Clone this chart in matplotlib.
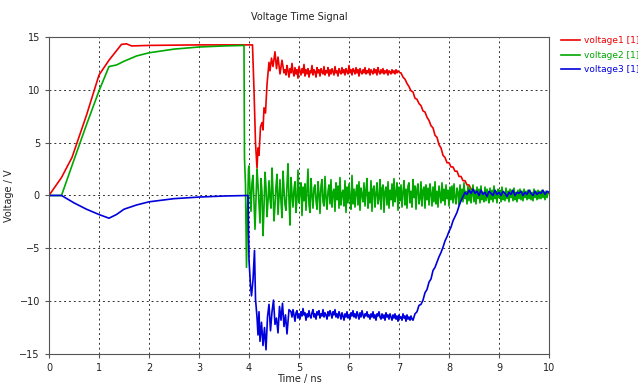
import numpy as np
import matplotlib
matplotlib.use("Agg")
import matplotlib.pyplot as plt

# Voltage time signal, three probes
# Each trace = hand-read breakpoints (t, V) + uniformly sampled noisy segments

v1_t = [0.0, 0.25, 0.46, 0.75, 1.0, 1.2, 1.45, 1.55, 1.65, 2.0, 3.0, 4.07,
        4.10, 4.13, 4.16, 4.18, 4.20, 4.23, 4.26, 4.28, 4.30, 4.33, 4.36, 4.40,
        4.42, 4.45, 4.48, 4.52, 4.55, 4.58, 4.62, 4.66, 4.70]
v1_v = [0.0, 1.7, 3.6, 7.6, 11.4, 12.8, 14.3, 14.35, 14.15, 14.2, 14.25, 14.25,
        10.0, 5.0, 2.6, 4.5, 3.8, 6.5, 6.9, 6.2, 8.3, 7.8, 10.5, 12.6,
        11.8, 13.0, 12.2, 13.6, 12.0, 13.1, 11.5, 12.8, 11.6]
# plateau 4.72 .. 7.02, every 0.02 ns
v1_plateau = [11.9, 11.4, 12.3, 11.8, 11.2, 12.0, 11.6, 12.5, 11.7, 11.3, 12.1, 11.5, 11.9, 11.1, 12.2, 11.8, 11.4, 12.0, 11.6, 12.4,
              11.3, 11.9, 11.5, 12.0, 11.2, 11.8, 11.6, 12.3, 11.4, 11.9, 11.7, 11.2, 12.1, 11.6, 11.9, 11.3, 12.0, 11.7, 11.5, 12.2,
              11.4, 11.8, 11.6, 12.1, 11.3, 11.9, 11.5, 12.0, 11.7, 11.4, 12.2, 11.6, 11.8, 11.3, 12.0, 11.7, 11.5, 12.1, 11.6, 11.9,
              11.4, 12.0, 11.7, 11.5, 12.3, 11.6, 11.9, 11.4, 12.0, 11.8, 11.5, 12.1, 11.6, 11.9, 11.3, 12.0, 11.7, 11.5, 11.9, 11.6,
              12.1, 11.5, 11.8, 11.6, 12.0, 11.4, 11.9, 11.7, 11.5, 12.0, 11.6, 11.9, 11.4, 12.1, 11.7, 11.5, 11.9, 11.6, 12.0, 11.5,
              11.8, 11.6, 11.9, 11.4, 11.8, 11.7, 11.5, 11.9, 11.6, 11.8, 11.5, 11.9, 11.6, 11.8, 11.7, 11.6]
# decline 7.04 .. 8.52 then tail 8.56 .. 10.0, every 0.04 ns
v1_fall = [11.6, 11.2, 11.0, 10.6, 10.3, 9.9, 9.8, 9.2, 9.1, 8.7, 8.5, 8.0,
           7.9, 7.4, 7.1, 6.6, 6.4, 5.7, 5.5, 4.8, 4.5, 3.8, 3.6, 3.1,
           3.1, 2.7, 2.7, 2.3, 2.3, 1.8, 1.8, 1.4, 1.4, 1.0, 1.0, 0.6,
           0.6, 0.3,
           0.3, 0.1, 0.4, 0.2, 0.3, 0.0, 0.3, 0.2, 0.1, 0.4, 0.2, 0.3,
           0.0, 0.3, 0.2, 0.1, 0.4, 0.2, 0.3, 0.1, 0.2, 0.3, 0.1, 0.2,
           0.3, 0.1, 0.4, 0.2, 0.1, 0.3, 0.2, 0.2, 0.3, 0.1, 0.2, 0.3, 0.2]

v2_t = [0.0, 0.25, 0.48, 0.75, 1.0, 1.2, 1.35, 1.5, 1.75, 2.0, 2.5, 3.0, 3.5, 3.90,
        3.91, 3.93, 3.95, 3.97, 3.99]
v2_v = [0.0, 0.0, 3.1, 6.7, 9.9, 12.2, 12.35, 12.7, 13.2, 13.5, 13.85, 14.05, 14.15, 14.2,
        3.5, 1.0, -6.8, -1.5, 2.5]
# ringing 4.00 .. 9.98, every 0.02 ns
v2_ring = [2.8, 0.5, -1.5, 1.2, 1.9, -0.6, -3.2, -0.4, 2.5, 1.0, -0.8, -2.6, 1.6, 0.3, -3.8, -1.2, 2.2, 0.8, -2.0, -0.5,
           1.4, -0.3, -1.2, 2.6, 0.4, -2.4, -0.9, 0.9, 2.0, -1.8, -0.2, 1.5, -0.6, -2.1, 2.3, 0.6, -0.9, -1.4, 1.0, 3.0,
           -0.4, -2.8, 1.7, 0.2, -1.1, 0.6, 1.3, -1.6, -0.3, 2.4, -0.7, 0.4, 1.2, -1.9, 0.8, -0.5, 1.1, -1.4, 0.5, 2.5,
           -0.9, -1.6, 1.6, 0.1, -1.2, 0.7, 1.0, -0.5, -1.3, 1.3, 0.2, -1.7, 0.9, 1.5, -0.6, -1.0, 1.8, -0.2, -1.3, 0.4,
           1.0, -0.8, 1.5, -1.1, 0.3, 0.6, -1.5, 1.2, -0.4, 0.9, -1.2, 1.7, -0.9, 0.2, 0.5, -1.0, 1.4, -1.6, 0.8, -0.7,
           1.1, -0.3, -1.3, 1.9, -0.8, 0.6, -1.1, 0.4, 1.0, -0.9, 1.3, -1.4, 0.7, 0.1, -0.6, 1.2, -1.0, 0.5, 1.6, -1.2,
           0.3, -0.7, 1.4, -1.5, 0.6, 0.9, -1.1, 0.2, 1.2, -0.8, -0.3, 1.5, -1.3, 0.7, 1.0, -1.6, 0.4, 0.8, -0.9, 1.3,
           -1.2, 0.5, -0.4, 1.1, -1.0, 1.6, -0.6, 0.2, 1.2, -1.4, 0.8, -0.5, 1.0, -1.1, 0.3, 1.4, -0.9, 0.6, -1.2, 0.9,
           1.2, -0.7, 0.4, -1.1, 1.5, -0.2, 0.9, -1.3, 0.6, 1.1, -0.8, -0.3, 1.3, -1.0, 0.5, 0.8, -1.2, 1.0, -0.4, 0.7,
           -0.9, 1.1, 0.2, -1.0, 0.8, -0.6, 1.3, -0.8, 0.4, -1.1, 0.9, 0.1, -0.7, 1.2, -0.5, 0.6, -0.9, 1.0, -0.3, 0.5,
           -1.0, 0.8, -0.4, 0.9, -0.7, 1.1, -0.2, -0.8, 0.7, 0.3, -0.9, 1.0, -0.5, 0.6, -0.6, 1.2, -0.3, 0.4, -0.8, 0.9,
           -0.5, 0.7, -0.7, 0.2, 1.0, -0.6, 0.5, -0.8, 0.8, -0.3, 0.6, -0.7, 0.9, -0.4, 0.3, -0.6, 0.8, -0.5, 0.6, -0.2,
           -0.7, 0.7, -0.4, 0.5, -0.6, 0.9, -0.3, 0.4, -0.7, 0.6, -0.2, 0.5, -0.6, 0.8, -0.4, 0.3, -0.5, 0.7, -0.3, 0.4,
           -0.6, 0.6, -0.2, 0.5, -0.5, 0.7, -0.4, 0.3, -0.6, 0.5, -0.3, 0.6, -0.4, 0.4, -0.5, 0.6, -0.2, 0.4, -0.4, 0.5,
           -0.3, 0.5, -0.4, 0.3, -0.5, 0.6, -0.2, 0.4, -0.4, 0.5, -0.3, 0.4, -0.3, 0.5, -0.2, 0.3, -0.4, 0.4, -0.2, 0.3]

v3_t = [0.0, 0.25, 0.5, 0.75, 1.0, 1.2, 1.35, 1.5, 1.75, 2.0, 2.5, 3.0, 3.5, 3.98,
        4.00, 4.03, 4.05, 4.08, 4.11, 4.13, 4.16, 4.18, 4.20, 4.22, 4.25, 4.28,
        4.31, 4.34, 4.37, 4.40, 4.43, 4.46, 4.49, 4.52, 4.55, 4.58, 4.61, 4.64,
        4.67, 4.70, 4.73, 4.76, 4.80]
v3_v = [0.0, 0.0, -0.7, -1.3, -1.8, -2.15, -1.8, -1.3, -0.9, -0.6, -0.3, -0.15, -0.05, 0.0,
        -6.1, -8.5, -9.5, -8.0, -5.2, -9.8, -11.5, -13.2, -11.0, -13.8, -12.0, -14.2,
        -12.5, -14.6, -11.5, -10.3, -12.8, -11.0, -9.9, -12.2, -11.6, -13.0, -10.5, -11.8,
        -10.2, -12.4, -11.3, -13.1, -10.8]
# plateau 4.84 .. 7.26, every 0.02 ns
v3_plateau = [-11.0, -11.5, -10.8, -11.3, -11.9, -11.1, -10.9, -11.6, -11.2, -11.7, -11.0, -11.4, -10.7, -11.3, -11.1, -11.8, -11.2, -11.5, -10.9, -11.4,
              -11.6, -11.1, -10.8, -11.5, -11.2, -11.7, -11.0, -11.3, -10.9, -11.6, -11.2, -11.4, -10.8, -11.5, -11.1, -11.3, -11.7, -11.0, -11.4, -10.9,
              -11.2, -11.6, -11.0, -11.3, -10.8, -11.5, -11.2, -11.6, -11.0, -11.3, -11.7, -11.1, -11.4, -11.8, -11.2, -11.5, -11.0, -11.6, -11.3, -11.7,
              -11.1, -11.4, -10.9, -11.5, -11.2, -11.6, -11.0, -11.3, -11.7, -11.1, -11.5, -10.9, -11.3, -11.6, -11.2, -11.4, -11.0, -11.5, -11.3, -11.7,
              -11.2, -11.5, -11.0, -11.6, -11.3, -11.8, -11.2, -11.4, -11.0, -11.5, -11.7, -11.2, -11.6, -11.3, -11.8, -11.1, -11.5, -11.3, -11.7, -11.2,
              -11.5, -11.8, -11.3, -11.6, -11.2, -11.7, -11.4, -11.9, -11.3, -11.6, -11.5, -11.8, -11.2, -11.6, -11.4, -11.9, -11.3, -11.7, -11.5, -11.8,
              -11.4, -11.7]
# rise 7.28 .. 8.52 then tail 8.56 .. 10.0, every 0.04 ns
v3_rise = [-11.8, -11.2, -11.0, -10.4, -10.3, -9.9, -9.2, -8.9, -8.2, -7.9, -7.1, -6.8,
           -6.3, -5.8, -5.4, -4.9, -4.3, -3.9, -3.4, -3.0, -2.4, -2.0, -1.6, -1.0,
           -0.5, -0.1, 0.3, 0.1, 0.5, 0.2, 0.6, 0.2,
           0.4, 0.0, 0.5, 0.1, 0.3, -0.1, 0.4, 0.2, 0.0, 0.5, 0.1, 0.3,
           0.0, 0.4, 0.2, -0.1, 0.3, 0.1, 0.5, 0.0, 0.3, 0.2, 0.4, 0.0,
           0.3, 0.1, 0.5, 0.2, 0.0, 0.4, 0.1, 0.3, 0.2, 0.5, 0.1, 0.4, 0.3]

labels = ["voltage1 [1]", "voltage2 [1]", "voltage3 [1]"]
colors = ["#ee0000", "#00a800", "#0000dd"]


def build(t_head, v_head, segments):
    ts, vs = [np.asarray(t_head)], [np.asarray(v_head)]
    for start, step, vals in segments:
        ts.append(start + step * np.arange(len(vals)))
        vs.append(np.asarray(vals))
    return np.concatenate(ts), np.concatenate(vs)


traces = [build(v1_t, v1_v, [(4.72, 0.02, v1_plateau), (7.04, 0.04, v1_fall)]),
          build(v2_t, v2_v, [(4.00, 0.02, v2_ring)]),
          build(v3_t, v3_v, [(4.84, 0.02, v3_plateau), (7.28, 0.04, v3_rise)])]

plt.rcParams['font.family'] = ['DejaVu Sans']
fig = plt.figure(figsize=(6.38, 3.85), dpi=100)
ax = fig.add_axes([0.0768, 0.0805, 0.7837, 0.8235])

for (t, v), lab, c in zip(traces, labels, colors):
    ax.plot(t, v, color=c, lw=1.2, label=lab)

ax.set_xlim(0, 10)
ax.set_ylim(-15, 15)
ax.set_xticks(np.arange(0, 11, 1))
ax.set_yticks(np.arange(-15, 16, 5))
ax.grid(True, color="#333333", linestyle=(0, (2, 3)), linewidth=0.7)
for s in ax.spines.values():
    s.set_color("#555555")
ax.tick_params(direction="out", length=3, color="#555555", labelsize=7, labelcolor="#222222")

ax.set_title("Voltage Time Signal", fontsize=7, color="#222222", pad=12)
ax.set_xlabel("Time / ns", fontsize=7, color="#222222", labelpad=1)
ax.set_ylabel("Voltage / V", fontsize=7, color="#222222", labelpad=4)

fig.legend(loc="upper left", bbox_to_anchor=(0.873, 0.915), frameon=False,
           fontsize=6.5, labelcolor="linecolor", handlelength=2.2,
           handletextpad=0.4, labelspacing=0.6, borderaxespad=0)

fig.savefig("out.png", dpi=100)
